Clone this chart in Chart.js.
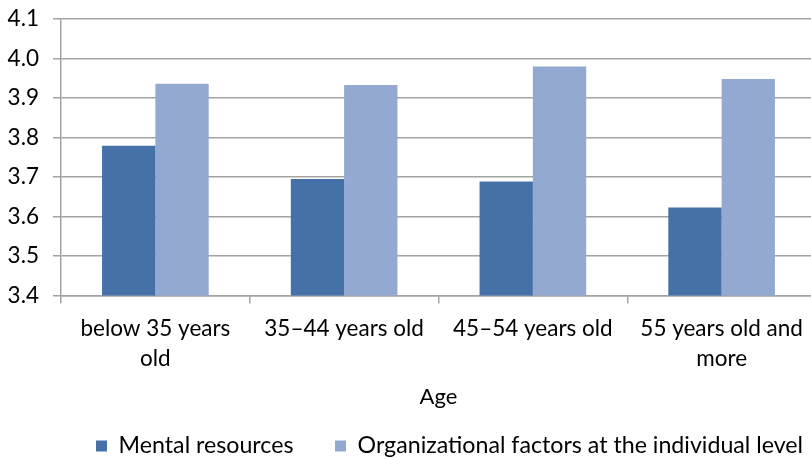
<!DOCTYPE html>
<html><head><meta charset="utf-8">
<script src="https://cdn.jsdelivr.net/npm/chart.js@4.4.1/dist/chart.umd.min.js"></script>
<style>
html,body{margin:0;padding:0;overflow:hidden;background:#fff;width:811px;height:459px}
#wrap{width:816px;height:459px}
</style></head>
<body><div id="wrap"><canvas id="c" width="816" height="459"></canvas></div>
<script>
// ---- data ----
const categories = [['below 35 years', 'old'], '35–44 years old', '45–54 years old', ['55 years old and', 'more']];
const seriesNames = ['Mental resources', 'Organizational factors at the individual level'];
const mentalResources = [3.779, 3.695, 3.689, 3.623];
const organizationalFactors = [3.936, 3.933, 3.980, 3.948];
const yTickValues = [3.4, 3.5, 3.6, 3.7, 3.8, 3.9, 4.0, 4.1];
const xAxisTitle = 'Age';

// ---- style ----
const FONT = 'Lato';
const darkBlue = '#4571A8';
const lightBlue = '#93A9D1';
const gridGray = '#A3A3A3';
const LEG_SIZE = 23.2;

function padLabel(text, target, size) {
  const ctx = document.createElement('canvas').getContext('2d');
  ctx.font = size + 'px ' + FONT;
  let t = text;
  while (ctx.measureText(t + ' ').width <= target) t += ' ';
  return t;
}

const legendPos = {
  id: 'legendPos',
  afterLayout(chart) {
    const l = chart.legend;
    if (!l) return;
    l.left = 96; l.right = 1000;
    l.top = 446 - LEG_SIZE / 2; l.bottom = 470;
  }
};

new Chart(document.getElementById('c'), {
  type: 'bar',
  data: {
    labels: categories,
    datasets: [
      { label: seriesNames[0], data: mentalResources, backgroundColor: darkBlue },
      { label: seriesNames[1], data: organizationalFactors, backgroundColor: lightBlue }
    ]
  },
  options: {
    responsive: false,
    animation: false,
    devicePixelRatio: 1,
    layout: { padding: { top: 19, left: 0, right: 0, bottom: 0 } },
    datasets: { bar: { categoryPercentage: 0.565, barPercentage: 1.0 } },
    scales: {
      x: {
        grid: { display: true, drawOnChartArea: false, drawTicks: true, tickLength: 8, color: gridGray, lineWidth: 1.5, offset: true },
        border: { display: true, color: gridGray, width: 1.5 },
        ticks: { color: '#000', font: { family: FONT, size: 22.5, lineHeight: 1.333 }, padding: 10, maxRotation: 0, autoSkip: false },
        title: { display: true, text: xAxisTitle, color: '#000', font: { family: FONT, size: 22, lineHeight: 1.2 }, padding: { top: 0, bottom: 15.8 } }
      },
      y: {
        min: 3.4, max: 4.1,
        afterBuildTicks(scale) { scale.ticks = yTickValues.map(v => ({ value: v })); },
        afterFit(scale) { scale.width = 61; scale.paddingTop = 11; scale.paddingBottom = 11; },
        grid: { color: gridGray, lineWidth: 1.5, drawTicks: true, tickLength: 8 },
        border: { display: true, color: gridGray, width: 1.5 },
        ticks: { color: '#000', font: { family: FONT, size: 22.5 }, padding: 14, callback: v => Number(v).toFixed(1) }
      }
    },
    plugins: {
      tooltip: { enabled: false },
      legend: {
        position: 'bottom',
        align: 'start',
        labels: {
          color: '#000',
          font: { family: FONT, size: LEG_SIZE },
          boxWidth: 11, boxHeight: 11, padding: 0,
          generateLabels(chart) {
            const items = Chart.defaults.plugins.legend.labels.generateLabels(chart);
            items.forEach(it => { it.lineWidth = 0; it.strokeStyle = 'rgba(0,0,0,0)'; });
            items[0].text = padLabel(items[0].text, 219.5, LEG_SIZE);
            return items;
          }
        }
      }
    }
  },
  plugins: [legendPos]
});
</script>
</body></html>
